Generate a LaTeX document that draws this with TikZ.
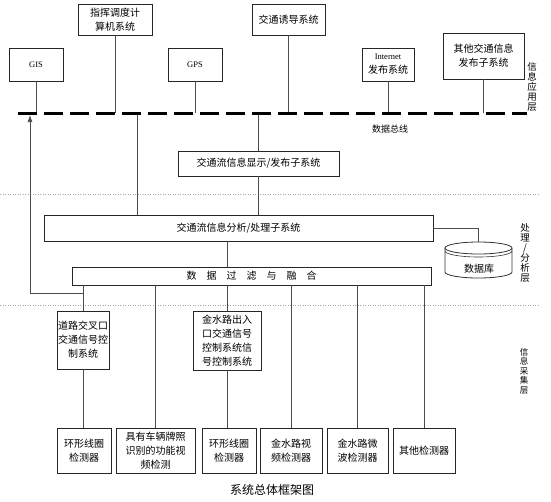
\documentclass[tikz,border=0pt]{standalone}
\usepackage{fontspec}
\setmainfont{Liberation Serif}
\newfontfamily\cjk{Noto Sans CJK SC}
\usetikzlibrary{arrows.meta}

\begin{document}
\begin{tikzpicture}[
    x=1pt, y=-1pt,
    box_node/.style={rectangle, draw=black!85, line width=0.9pt, inner sep=0pt, align=center, font=\cjk\fontsize{10}{14}\selectfont},
    latin_node/.style={box_node, font=\fontsize{8.5}{11}\selectfont},
    link/.style={draw=black!70, line width=0.7pt},
    bus_line/.style={line width=3pt, dash pattern=on 19pt off 7pt},
    layer_line/.style={gray!70, line width=0.8pt, dash pattern=on 1pt off 1.5pt},
    layer_label/.style={align=center, inner sep=0pt, font=\cjk\fontsize{9.5}{10}\selectfont}
]
    \useasboundingbox (0,0) rectangle (551,501);

    % application layer
    \node[latin_node, minimum width=54, minimum height=33] (GIS) at (36,64.5) {GIS};
    \node[box_node, minimum width=74, minimum height=31] (CMD) at (115,19.5) {指挥调度计\\算机系统};
    \node[latin_node, minimum width=54, minimum height=33] (GPS) at (195,64.5) {GPS};
    \node[box_node, minimum width=73, minimum height=31] (GUIDE) at (288.5,19.5) {交通诱导系统};
    \node[box_node, minimum width=52, minimum height=33] (NET) at (388,64.5) {{\rmfamily\fontsize{8.5}{11}\selectfont Internet}\\发布系统};
    \node[box_node, minimum width=81, minimum height=46] (OTH) at (483.5,56) {其他交通信息\\发布子系统};

    \coordinate (BUSL) at (18,113);
    \coordinate (BUSR) at (527,113);
    \coordinate (TAP) at (137,113);
    \node[font=\cjk\fontsize{9}{10}\selectfont] (BUSTXT) at (390,129) {数据总线};

    % processing layer
    \node[box_node, minimum width=161, minimum height=25] (DISP) at (258.5,163.5) {交通流信息显示/发布子系统};
    \node[box_node, minimum width=389, minimum height=26] (ANA) at (238.5,228) {交通流信息分析/处理子系统};
    \node[box_node, minimum width=359, minimum height=18] (FIL) at (251.5,276) {数\hspace{1em}据\hspace{1em}过\hspace{1em}滤\hspace{1em}与\hspace{1em}融\hspace{1em}合};

    \coordinate (DBTOP) at (478.5,242);
    \draw[draw=black!80, line width=0.8pt] (478.5,248) ellipse [x radius=33.5, y radius=6];
    \draw[draw=black!80, line width=0.6pt] (445,251) arc [start angle=180, end angle=0, x radius=33.5, y radius=6];
    \draw[draw=black!80, line width=0.8pt] (445,248) -- (445,272) arc [start angle=180, end angle=0, x radius=33.5, y radius=6] -- (512,248);
    \node[font=\cjk\fontsize{10}{12}\selectfont] (DB) at (479,269) {数据库};

    % collection layer
    \node[box_node, minimum width=52, minimum height=58] (ROAD) at (83,340) {道路交叉口\\交通信号控\\制系统};
    \node[box_node, minimum width=68, minimum height=59] (JS) at (227,340.5) {金水路出入\\口交通信号\\控制系统信\\号控制系统};

    \node[box_node, minimum width=54, minimum height=45] (L1) at (84,450.5) {环形线圈\\检测器};
    \node[box_node, minimum width=79, minimum height=45] (VP) at (155.5,450.5) {具有车辆牌照\\识别的功能视\\频检测};
    \node[box_node, minimum width=54, minimum height=45] (L2) at (229,450.5) {环形线圈\\检测器};
    \node[box_node, minimum width=62, minimum height=45] (VD) at (291,450.5) {金水路视\\频检测器};
    \node[box_node, minimum width=61, minimum height=45] (MW) at (357.5,450.5) {金水路微\\波检测器};
    \node[box_node, minimum width=62, minimum height=45] (OD) at (424,450.5) {其他检测器};

    \node[layer_label] (LAPP) at (532,87) {信\\息\\应\\用\\层};
    \node[layer_label] (LPRO) at (525,252.5) {处\\理\\/\\分\\析\\层};
    \node[layer_label, font=\cjk\fontsize{8.5}{9.5}\selectfont] (LCOL) at (524,371) {信\\息\\采\\集\\层};

    \node[font=\cjk\fontsize{12}{14}\selectfont] (CAP) at (272,490) {系统总体框架图};

    \draw[layer_line] (0,194) -- (540,194);
    \draw[layer_line] (0,305) -- (540,305);

    \foreach \n in {GIS,CMD,GPS,GUIDE,NET,OTH}
        \draw[link] (\n.south) -- (\n.south |- BUSL);
    \draw[link] (TAP) -- (TAP |- ANA.north);
    \draw[link] (DISP.north) -- (DISP.north |- BUSL);
    \draw[link] (DISP.south) -- (DISP.south |- ANA.north);
    \draw[link] (ANA.south -| JS.north) -- (FIL.north -| JS.north);
    \draw[link] (ANA.east) -| (DBTOP);

    \draw[link] (ROAD.north |- FIL.south) -- (ROAD.north);
    \draw[link] (ROAD.south) -- (ROAD.south |- L1.north);
    \draw[link] (JS.north |- FIL.south) -- (JS.north);
    \draw[link] (JS.south) -- (JS.south |- L2.north);
    \foreach \n in {VP,VD,MW,OD}
        \draw[link] (\n.north |- FIL.south) -- (\n.north);

    \coordinate (FB) at (30,293);
    \coordinate (FBTOP) at (30,115);
    \draw[link, -{Latex[length=7pt,width=5pt]}] (ROAD.north |- FB) -- (FB) -- (FBTOP);

    \draw[bus_line] (BUSL) -- (BUSR);
\end{tikzpicture}
\end{document}
